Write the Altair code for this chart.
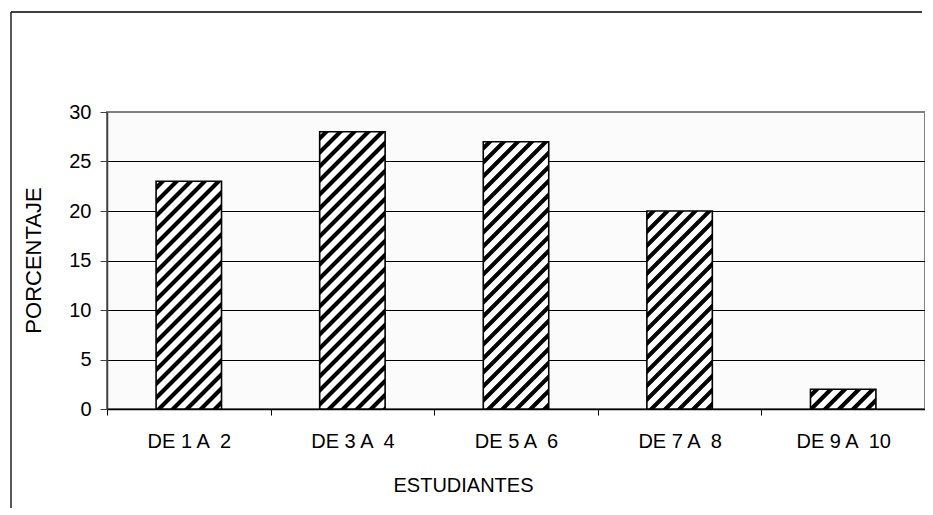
import altair as alt
import pandas as pd

# ---- data ----
categories = ["DE 1 A \u00a02", "DE 3 A \u00a04", "DE 5 A \u00a06", "DE 7 A \u00a08", "DE 9 A \u00a010"]
values = [23, 28, 27, 20, 2]
y_ticks = [0, 5, 10, 15, 20, 25, 30]

df = pd.DataFrame({"cat": categories, "val": values})

# ---- layout ----
W, H = 818, 297
YMAX = 30
step = W / len(categories)
bar_frac = 0.4
period = 14.0      # horizontal stripe period in px
black_frac = 0.42
soft = 1.3
FONT = "Liberation Sans"


def hatch(value):
    """Diagonal '/' hatch as a linear gradient in bounding-box units."""
    w = step * bar_frac
    h = value / YMAX * H
    L = w + h
    k = L / (w * w + h * h)
    stops = []
    n = int(L // period) + 2
    for i in range(n):
        a = i * period + 3
        b = a + black_frac * period
        for pos, col in [(a, "white"), (a + soft, "black"), (b, "black"), (b + soft, "white")]:
            t = max(0.0, min(pos / L, 1.0))
            stops.append({"offset": t, "color": col})
    return {"gradient": "linear", "x1": 0, "y1": 0, "x2": k * w, "y2": k * h, "stops": stops}


x_enc = alt.X(
    "cat:N",
    sort=categories,
    scale=alt.Scale(paddingInner=0, paddingOuter=0),
    axis=alt.Axis(
        title="ESTUDIANTES",
        labelAngle=0,
        tickBand="extent",
        tickSize=6,
        tickColor="black",
        tickWidth=1,
        domainColor="black",
        domainWidth=1.5,
        labelFont=FONT,
        labelFontSize=20,
        labelColor="black",
        labelPadding=16,
        titleFont=FONT,
        titleFontSize=20,
        titleFontWeight="normal",
        titleColor="black",
        titleX=356,
        titleY=82,
        titleAlign="center",
        titleBaseline="alphabetic",
        grid=False,
    ),
)

y_enc = alt.Y(
    "val:Q",
    scale=alt.Scale(domain=[0, YMAX], nice=False),
    axis=alt.Axis(
        title="PORCENTAJE",
        values=y_ticks,
        grid=True,
        gridColor={"condition": {"test": "datum.value === 30", "value": "#808080"}, "value": "black"},
        gridWidth=1,
        domainColor="#404040",
        domainWidth=1.5,
        tickColor="#404040",
        tickSize=7,
        labelFont=FONT,
        labelFontSize=20,
        labelColor="black",
        labelPadding=9,
        titleFont=FONT,
        titleFontSize=22,
        titleFontWeight="normal",
        titleColor="black",
        titleAngle=270,
        titleX=-67,
        titleY=148,
        titleAlign="center",
        titleBaseline="alphabetic",
    ),
)

layers = []
for c, v in zip(categories, values):
    layers.append(
        alt.Chart(df)
        .transform_filter(alt.datum.cat == c)
        .mark_bar(width={"band": bar_frac}, fill=hatch(v), stroke="black", strokeWidth=1.6)
        .encode(x=x_enc, y=y_enc)
    )

one = pd.DataFrame({"a": [0]})
frame_top = (
    alt.Chart(one)
    .mark_rule(stroke="black", strokeWidth=1.3)
    .encode(x=alt.value(-96), x2=alt.value(815), y=alt.value(-100))
)
frame_left = (
    alt.Chart(one)
    .mark_rule(stroke="black", strokeWidth=1.3)
    .encode(x=alt.value(-96), y=alt.value(-100), y2=alt.value(396))
)

chart = (
    alt.layer(frame_top, frame_left, *layers)
    .properties(
        width=W,
        height=H,
        autosize=alt.AutoSizeParams(type="none"),
        padding={"left": 99, "top": 104, "right": 0, "bottom": 100},
        background="white",
    )
    .configure_view(fill="#FBFBFB", stroke="#808080", strokeWidth=2)
)

chart.save("out.html", embed_options={"renderer": "svg", "actions": False})
